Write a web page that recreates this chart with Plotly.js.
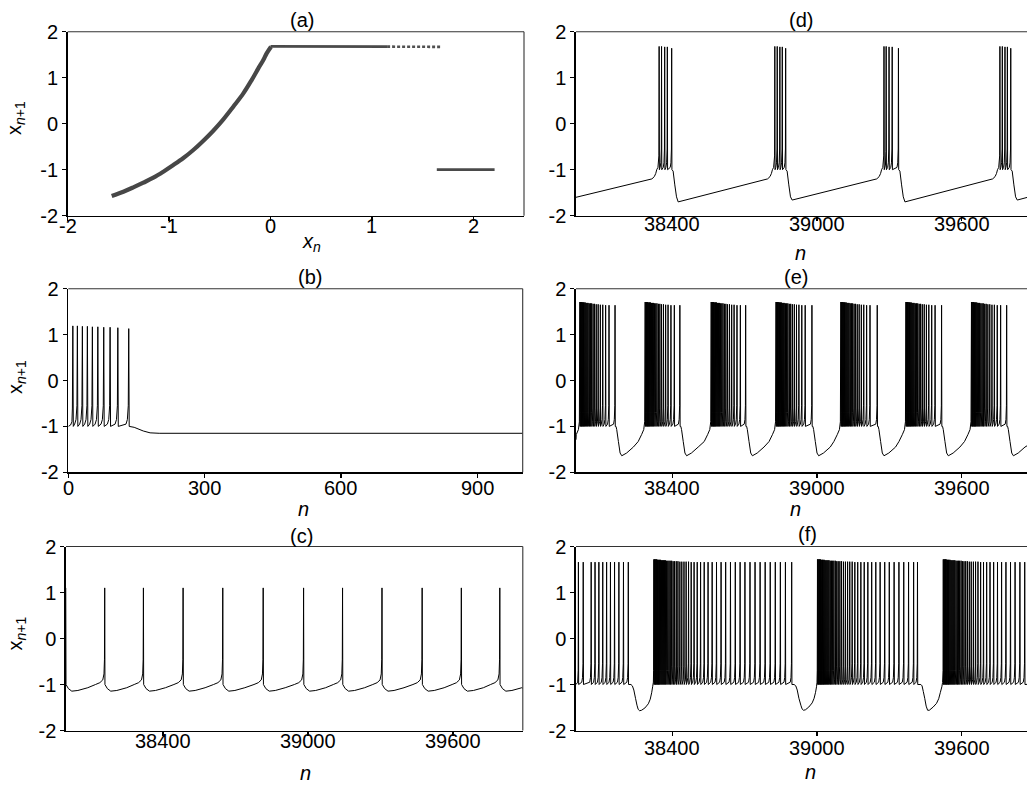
<!DOCTYPE html>
<html><head><meta charset="utf-8">
<script src="https://cdn.plot.ly/plotly-3.0.1.min.js"></script>
<style>html,body{margin:0;padding:0;overflow:hidden;background:#fff}</style>
</head><body><div id="chart" style="width:1031px;height:785px"></div>
<script>
// ================= DATA =================
// (a) return map x_{n+1} vs x_n
const aCurveX = [-1.566,-1.451,-1.353,-1.254,-1.155,-1.057,-0.958,-0.859,-0.761,-0.662,-0.564,-0.465,-0.367,-0.268,-0.186,-0.120,-0.071,-0.038,0.005];
const aCurveY = [-1.572,-1.478,-1.384,-1.283,-1.174,-1.043,-0.899,-0.746,-0.572,-0.370,-0.152,0.094,0.370,0.659,0.949,1.203,1.384,1.529,1.674];
const aTopDenseX = [0.0, 1.15];
const aTopDenseY = [1.68, 1.675];
const aTopSparseX = [1.15, 1.69];
const aTopSparseY = [1.675, 1.67];
const aLowX = [1.64, 2.21];
const aLowY = [-1.0, -1.0];

// (b) transient spiking, n = 0..1000
const bSpikes = [10, 20, 31, 42, 53, 65, 78, 92, 109, 133];
const bPeaks  = [1.19, 1.19, 1.18, 1.18, 1.17, 1.17, 1.16, 1.16, 1.15, 1.13];
const bSlowN  = [0, 5, 8, 9, 145, 165, 180, 200, 1000];
const bSlowX  = [-1.0, -0.97, -0.9, -0.6, -1.02, -1.1, -1.14, -1.15, -1.15];

// (c) regular spiking
const cSpikes = [37999, 38160, 38320, 38484, 38648, 38815, 38982, 39143, 39306, 39472, 39634, 39793];
const cPeak = 1.1;
const cPostDt = [1, 11, 25, 50, 91];
const cPostX  = [-1.0, -1.09, -1.145, -1.13, -1.07];
const cPreDt  = [38, 20, 8, 3, 1];
const cPreX   = [-1.0, -0.96, -0.9, -0.77, -0.45];
const cSlowN  = [39888];
const cSlowX  = [-1.08];

// (d) short bursts (5 spikes)
const dSpikes = [38345, 38355, 38368, 38379, 38397,
                 38825, 38835, 38846, 38856, 38870,
                 39278, 39287, 39299, 39312, 39338,
                 39759, 39769, 39780, 39790, 39804];
const dPeaks  = [1.68, 1.68, 1.67, 1.67, 1.64,
                 1.68, 1.68, 1.67, 1.67, 1.64,
                 1.68, 1.68, 1.67, 1.67, 1.64,
                 1.68, 1.68, 1.67, 1.67, 1.64];
const dSlowN = [38000, 38315, 38325, 38331, 38335, 38340, 38344,
                38403, 38410, 38417, 38424, 38795, 38805, 38811, 38815, 38820, 38824,
                38876, 38883, 38890, 38897, 39248, 39258, 39264, 39268, 39273, 39277,
                39344, 39351, 39358, 39365, 39729, 39739, 39745, 39749, 39754, 39758,
                39810, 39817, 39824, 39831, 39888];
const dSlowX = [-1.6, -1.2, -1.15, -1.08, -1.0, -0.95, -0.7,
                -1.03, -1.33, -1.59, -1.7, -1.2, -1.15, -1.08, -1.0, -0.95, -0.7,
                -1.03, -1.33, -1.59, -1.66, -1.2, -1.15, -1.08, -1.0, -0.95, -0.7,
                -1.03, -1.33, -1.59, -1.7, -1.2, -1.15, -1.08, -1.0, -0.95, -0.7,
                -1.03, -1.33, -1.59, -1.66, -1.58];

// (e) medium bursts
const eBurstStart = [38016, 38287, 38561, 38830, 39099, 39369, 39641];
const eBurstEnd   = [38162, 38431, 38704, 38979, 39250, 39517, 39787];
const eISI = [3, 3, 3, 3, 3, 3, 4, 4, 4, 4, 5, 5, 5, 6, 6, 7, 8, 9, 10, 12, 14];
const ePeaks = [1.71, 1.71, 1.71, 1.71, 1.70, 1.70, 1.70, 1.70, 1.69, 1.69, 1.69, 1.68, 1.68, 1.68, 1.67, 1.67, 1.66, 1.66, 1.65, 1.65, 1.64, 1.64, 1.64];
const ePostDt = [4, 7, 14, 21, 28, 48, 76];
const ePostX  = [-1.0, -1.07, -1.33, -1.58, -1.64, -1.58, -1.45];
const ePreDt  = [29, 15, 6, 2];
const ePreX   = [-1.33, -1.18, -1.07, -0.9];
const eSlowN = [38000, 39888];
const eSlowX = [-1.29, -1.37];

// (f) long bursts
const fFirstSpikes = [38010, 38030, 38063, 38079, 38095, 38111, 38127, 38143, 38160, 38178, 38197, 38217];
const fFirstPeak = 1.66;
const fBurstStart = [38323, 39002, 39524];
const fBurstEnd   = [38895, 39417, 39862];
const fISI = [3, 3, 3, 3, 3, 3, 3, 3, 4, 4, 4, 4, 4, 4, 5, 5, 5, 5, 6, 6, 6, 7, 7, 8, 8, 9, 9, 10, 11, 12, 13, 14, 15, 16, 17, 18, 19, 19, 20, 20, 20, 20, 21, 21, 21, 21, 21, 21, 21, 21, 21];
const fPeaks = [1.72, 1.72, 1.72, 1.72, 1.72, 1.71, 1.71, 1.71, 1.71, 1.71, 1.70, 1.70, 1.70, 1.70, 1.70, 1.69, 1.69, 1.69, 1.69, 1.69, 1.68, 1.68, 1.68, 1.68, 1.67, 1.67, 1.67, 1.67, 1.67, 1.66];
const fSlowN = [38000, 38007, 38009,
                38228, 38234, 38240, 38247, 38253, 38258, 38264, 38272, 38286, 38300, 38308, 38314, 38318, 38321, 38322,
                38905, 38912, 38918, 38925, 38933, 38938, 38944, 38952, 38966, 38980, 38988, 38994, 38998, 39000, 39001,
                39431, 39436, 39441, 39447, 39453, 39459, 39466, 39482, 39496, 39505, 39512, 39518, 39521, 39523,
                39888];
const fSlowX = [-1.0, -0.95, -0.7,
                -1.0, -1.03, -1.12, -1.3, -1.45, -1.54, -1.57, -1.56, -1.51, -1.42, -1.32, -1.18, -1.05, -0.95, -0.7,
                -1.0, -1.03, -1.12, -1.3, -1.45, -1.53, -1.56, -1.55, -1.49, -1.4, -1.3, -1.17, -1.05, -0.95, -0.7,
                -1.0, -1.03, -1.15, -1.3, -1.47, -1.56, -1.56, -1.49, -1.41, -1.31, -1.17, -1.05, -0.96, -0.7,
                -0.99];

// spike shape pieces shared by the bursting traces
const troughX = -1.0;
const preLong  = {dt: [6, 3, 1], x: [-0.95, -0.85, -0.55]};
const preMid   = {dt: [3, 1],    x: [-0.9, -0.6]};
const preShort = {dt: [1],       x: [-0.7]};

// axes tick labels
const yTickVals = [-2, -1, 0, 1, 2];
const yTickText = ['-2', '-1', '0', '1', '2'];
const aTickVals = [-2, -1, 0, 1, 2];
const aTickText = ['-2', '-1', '0', '1', '2'];
const bTickVals = [0, 300, 600, 900];
const bTickText = ['0', '300', '600', '900'];
const nTickVals = [38400, 39000, 39600];
const nTickText = ['38400', '39000', '39600'];
const panelLabels = ['(a)', '(b)', '(c)', '(d)', '(e)', '(f)'];

// ================= BUILDERS =================
function buildTrain(spikes, peaks, slowN, slowX, opt) {
  opt = opt || {};
  const pts = [];
  slowN.forEach((n, i) => pts.push([n, slowX[i]]));
  spikes.forEach((t, i) => {
    const pk = (typeof peaks === 'number') ? peaks : peaks[Math.min(i, peaks.length - 1)];
    pts.push([t, pk]);
    if (opt.post) opt.post.dt.forEach((d, k) => pts.push([t + d, opt.post.x[k]]));
    else pts.push([t + 1, troughX]);
    if (i > 0) {
      const gap = t - spikes[i - 1];
      if (opt.pre) opt.pre.dt.forEach((d, k) => pts.push([t - d, opt.pre.x[k]]));
      else if (gap < 60) {
        const r = gap >= 10 ? preLong : (gap >= 6 ? preMid : preShort);
        r.dt.forEach((d, k) => pts.push([t - d, r.x[k]]));
      }
    }
  });
  pts.sort((a, b) => a[0] - b[0]);
  return {x: pts.map(p => p[0]), y: pts.map(p => p[1])};
}
function burstSpikes(starts, ends, isi, peaks) {
  const t = [], pk = [];
  starts.forEach((s, b) => {
    let cur = s, k = 0;
    t.push(cur); pk.push(peaks[0]);
    while (k < isi.length && cur + isi[k] < ends[b] - 6) {
      cur += isi[k]; k++;
      t.push(cur); pk.push(peaks[Math.min(k, peaks.length - 1)]);
    }
    t.push(ends[b]); pk.push(peaks[Math.min(k + 1, peaks.length - 1)]);
  });
  return {t, pk};
}

// ---- assemble traces ----
const bT = buildTrain(bSpikes, bPeaks, bSlowN, bSlowX);
const cT = buildTrain(cSpikes, cPeak, cSlowN, cSlowX,
  {post: {dt: cPostDt, x: cPostX}, pre: {dt: cPreDt, x: cPreX}});
const dT = buildTrain(dSpikes, dPeaks, dSlowN, dSlowX);

const eB = burstSpikes(eBurstStart, eBurstEnd, eISI, ePeaks);
const eSN = eSlowN.slice(), eSX = eSlowX.slice();
eBurstEnd.forEach(E => ePostDt.forEach((d, k) => { eSN.push(E + d); eSX.push(ePostX[k]); }));
eBurstStart.forEach(S => ePreDt.forEach((d, k) => { eSN.push(S - d); eSX.push(ePreX[k]); }));
const eT = buildTrain(eB.t, eB.pk, eSN, eSX);

const fB = burstSpikes(fBurstStart, fBurstEnd, fISI, fPeaks);
const fAllT = fFirstSpikes.concat(fB.t);
const fAllP = fFirstSpikes.map(() => fFirstPeak).concat(fB.pk);
const fT = buildTrain(fAllT, fAllP, fSlowN, fSlowX);

// ================= LAYOUT =================
const W = 1031, H = 785;
const fx = p => p / W, fy = p => 1 - p / H;
const FONT = 'Liberation Sans, Arial, sans-serif';
const FS = 20;
const lineStyle = {color: '#000', width: 1, simplify: false};

const traces = [
  {x: aCurveX, y: aCurveY, xaxis: 'x', yaxis: 'y', mode: 'lines', line: {color: '#474747', width: 4.2, shape: 'spline', smoothing: 1}},
  {x: aTopDenseX, y: aTopDenseY, xaxis: 'x', yaxis: 'y', mode: 'lines', line: {color: '#4a4a4a', width: 2.8}},
  {x: aTopSparseX, y: aTopSparseY, xaxis: 'x', yaxis: 'y', mode: 'lines', line: {color: '#505050', width: 2.6, dash: '3px,2px'}},
  {x: aLowX, y: aLowY, xaxis: 'x', yaxis: 'y', mode: 'lines', line: {color: '#4a4a4a', width: 2.8}},
  {x: bT.x, y: bT.y, xaxis: 'x2', yaxis: 'y2', mode: 'lines', line: lineStyle},
  {x: cT.x, y: cT.y, xaxis: 'x3', yaxis: 'y3', mode: 'lines', line: lineStyle},
  {x: dT.x, y: dT.y, xaxis: 'x4', yaxis: 'y4', mode: 'lines', line: lineStyle},
  {x: eT.x, y: eT.y, xaxis: 'x5', yaxis: 'y5', mode: 'lines', line: lineStyle},
  {x: fT.x, y: fT.y, xaxis: 'x6', yaxis: 'y6', mode: 'lines', line: lineStyle}
];

function ax(extra) {
  return Object.assign({
    showline: true, linecolor: '#000', linewidth: 1.6,
    ticks: 'outside', ticklen: 4, tickwidth: 1.5, tickcolor: '#000',
    showgrid: false, zeroline: false, fixedrange: true,
    tickfont: {family: FONT, size: FS, color: '#000'}
  }, extra);
}
const rows = [[31.7, 215.7], [288.7, 472.3], [546.5, 730.5]];
const leftX = [[67.7, 524], [68.3, 522.7], [66, 522.8]];
const rightX = [576, 1031];
const NR = [38000, 39888];

const layout = {
  width: W, height: H, margin: {l: 0, r: 0, t: 0, b: 0},
  paper_bgcolor: '#fff', plot_bgcolor: '#fff', showlegend: false,
  font: {family: FONT, size: FS, color: '#000'},
  xaxis:  ax({domain: [fx(leftX[0][0]), fx(leftX[0][1])], range: [-2, 2.5], tickvals: aTickVals, showticklabels: false, anchor: 'y'}),
  yaxis:  ax({domain: [fy(rows[0][1]), fy(rows[0][0])], range: [-2, 2], tickvals: yTickVals, ticktext: yTickText, anchor: 'x'}),
  xaxis2: ax({domain: [fx(leftX[1][0]), fx(leftX[1][1])], range: [0, 1000], tickvals: bTickVals, showticklabels: false, anchor: 'y2'}),
  yaxis2: ax({domain: [fy(rows[1][1]), fy(rows[1][0])], range: [-2, 2], tickvals: yTickVals, ticktext: yTickText, anchor: 'x2'}),
  xaxis3: ax({domain: [fx(leftX[2][0]), fx(leftX[2][1])], range: NR, tickvals: nTickVals, showticklabels: false, anchor: 'y3'}),
  yaxis3: ax({domain: [fy(rows[2][1]), fy(rows[2][0])], range: [-2, 2], tickvals: yTickVals, ticktext: yTickText, anchor: 'x3'}),
  xaxis4: ax({domain: [fx(rightX[0]), 1], range: NR, tickvals: nTickVals, showticklabels: false, anchor: 'y4'}),
  yaxis4: ax({domain: [fy(rows[0][1]), fy(rows[0][0])], range: [-2, 2], tickvals: yTickVals, ticktext: yTickText, anchor: 'x4'}),
  xaxis5: ax({domain: [fx(rightX[0]), 1], range: NR, tickvals: nTickVals, showticklabels: false, anchor: 'y5'}),
  yaxis5: ax({domain: [fy(rows[1][1]), fy(rows[1][0])], range: [-2, 2], tickvals: yTickVals, ticktext: yTickText, anchor: 'x5'}),
  xaxis6: ax({domain: [fx(rightX[0]), 1], range: NR, tickvals: nTickVals, showticklabels: false, anchor: 'y6'}),
  yaxis6: ax({domain: [fy(rows[2][1]), fy(rows[2][0])], range: [-2, 2], tickvals: yTickVals, ticktext: yTickText, anchor: 'x6'}),
  shapes: [],
  annotations: []
};
['', '2', '3', '4', '5', '6'].forEach(s => {
  layout.shapes.push({type: 'line', xref: 'x' + s + ' domain', yref: 'y' + s + ' domain', x0: 0, x1: 1, y0: 1, y1: 1, line: {color: '#333', width: 1.1}});
  layout.shapes.push({type: 'line', xref: 'x' + s + ' domain', yref: 'y' + s + ' domain', x0: 1, x1: 1, y0: 0, y1: 1, line: {color: '#333', width: 1.1}});
});
function txt(text, xref, x, py, extra) {
  layout.annotations.push(Object.assign({
    text: text, xref: xref, yref: 'paper', x: x, y: fy(py),
    xanchor: 'center', yanchor: 'middle', showarrow: false,
    font: {family: FONT, size: FS, color: '#000'}
  }, extra || {}));
}
// x tick labels, placed on each axis scale
const xTickSets = [
  ['x',  aTickVals, aTickText, 226],
  ['x2', bTickVals, bTickText, 488],
  ['x3', nTickVals, nTickText, 741],
  ['x4', nTickVals, nTickText, 223.5],
  ['x5', nTickVals, nTickText, 487.5],
  ['x6', nTickVals, nTickText, 748]
];
xTickSets.forEach(([ref, vals, labels, py]) => vals.forEach((v, i) => txt(labels[i], ref, v, py)));
// panel titles
const titlePos = [[302, 20], [310, 277], [301, 536], [801, 20], [796, 276.5], [807, 534]];
panelLabels.forEach((t, i) => txt(t, 'paper', fx(titlePos[i][0]), titlePos[i][1]));
// y titles
[[16, 118], [16, 377], [16, 633.5]].forEach(p => txt('x<sub><i>n</i>+1</sub>', 'paper', fx(p[0]), p[1], {textangle: -90}));
// x titles
[[303, 509], [305, 773], [800, 253], [795, 509], [810, 772]].forEach(p => txt('<i>n</i>', 'paper', fx(p[0]), p[1]));
txt('<i>x</i><sub><i>n</i></sub>', 'paper', fx(311.5), 243);

Plotly.newPlot('chart', traces, layout, {staticPlot: true, displayModeBar: false});
</script>
</body></html>
